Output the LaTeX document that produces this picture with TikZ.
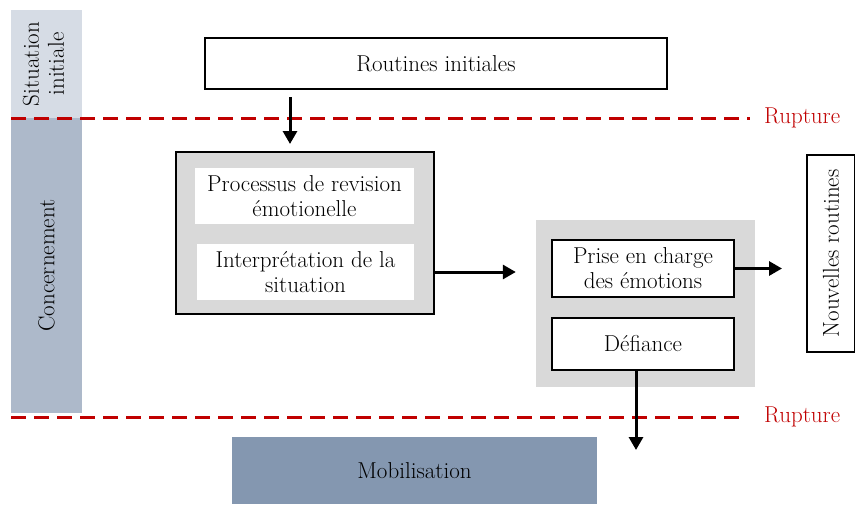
\documentclass[tikz,border=0pt]{standalone}
\usepackage{fontspec}
\usetikzlibrary{arrows.meta}
\definecolor{bandA}{HTML}{D6DCE5}
\definecolor{bandB}{HTML}{ADB9CA}
\definecolor{boxgray}{HTML}{D9D9D9}
\definecolor{mobil}{HTML}{8497B0}
\definecolor{ruptred}{HTML}{C00000}
\tikzset{
  box/.style={draw,line width=2pt,fill=white,inner sep=0pt,align=center},
  plain/.style={inner sep=0pt,align=center},
  arr/.style={line width=3pt,-{Triangle[length=13pt,width=14pt]}},
  rupt/.style={ruptred,line width=3pt,dash pattern=on 15pt off 8pt},
}
\begin{document}
\begin{tikzpicture}
[x=1pt,y=-1pt,font=\fontsize{23}{25}\selectfont]
\useasboundingbox (0,0) rectangle (855,506);

% bandes de gauche
\node[plain,fill=bandA,minimum width=71,minimum height=108] (sit) at (46.5,64)
  {\rotatebox{90}{\begin{tabular}{@{}c@{}}Situation\\initiale\end{tabular}}};
\node[plain,fill=bandB,minimum width=71,minimum height=295] (conc) at (46.5,265.5)
  {\rotatebox{90}{Concernement}};

\node[box,minimum width=462,minimum height=51] (rout) at (436,63.5) {Routines initiales};

\node[box,fill=boxgray,minimum width=258,minimum height=162] (proc) at (305,233) {};
\node[plain,fill=white,minimum width=219,minimum height=56] (rev) at (304.5,196)
  {Processus de revision\\émotionelle};
\node[plain,fill=white,minimum width=217,minimum height=56] (interp) at (305.5,272)
  {Interprétation de la\\situation};

\node[plain,fill=boxgray,minimum width=219,minimum height=167] (grp) at (645.5,303.5) {};
\node[box,minimum width=182,minimum height=57] (prise) at (643,268.5)
  {Prise en charge\\des émotions};
\node[box,minimum width=182,minimum height=52] (defi) at (643,344) {Défiance};

\node[box,minimum width=48,minimum height=197] (nouv) at (831,253.5)
  {\rotatebox{90}{Nouvelles routines}};

\node[plain,fill=mobil,minimum width=365,minimum height=67] (mob) at (414.5,470.5) {Mobilisation};

% ruptures
\coordinate (r1a) at (11,118);
\coordinate (r1b) at (750,118);
\coordinate (r2a) at (11,417);
\coordinate (r2b) at (745,417);
\draw[rupt] (r1a) -- (r1b);
\draw[rupt] (r2a) -- (r2b);
\node[ruptred,anchor=west,inner sep=0pt] (rup1) at (764,118) {Rupture};
\node[ruptred,anchor=west,inner sep=0pt] (rup2) at (764,417) {Rupture};

% fleches
\coordinate (a1) at (290,0);
\coordinate (a4) at (636,450);
\draw[arr,shorten <=7pt,shorten >=7pt] (rout.south -| a1) -- (proc.north -| a1);
\draw[arr,shorten >=20pt] (interp.east -| proc.east) -- (interp.east -| grp.west);
\draw[arr,shorten >=24pt] (prise.east) -- (prise.east -| nouv.west);
\draw[arr] (defi.south -| a4) -- (a4);
\end{tikzpicture}
\end{document}
